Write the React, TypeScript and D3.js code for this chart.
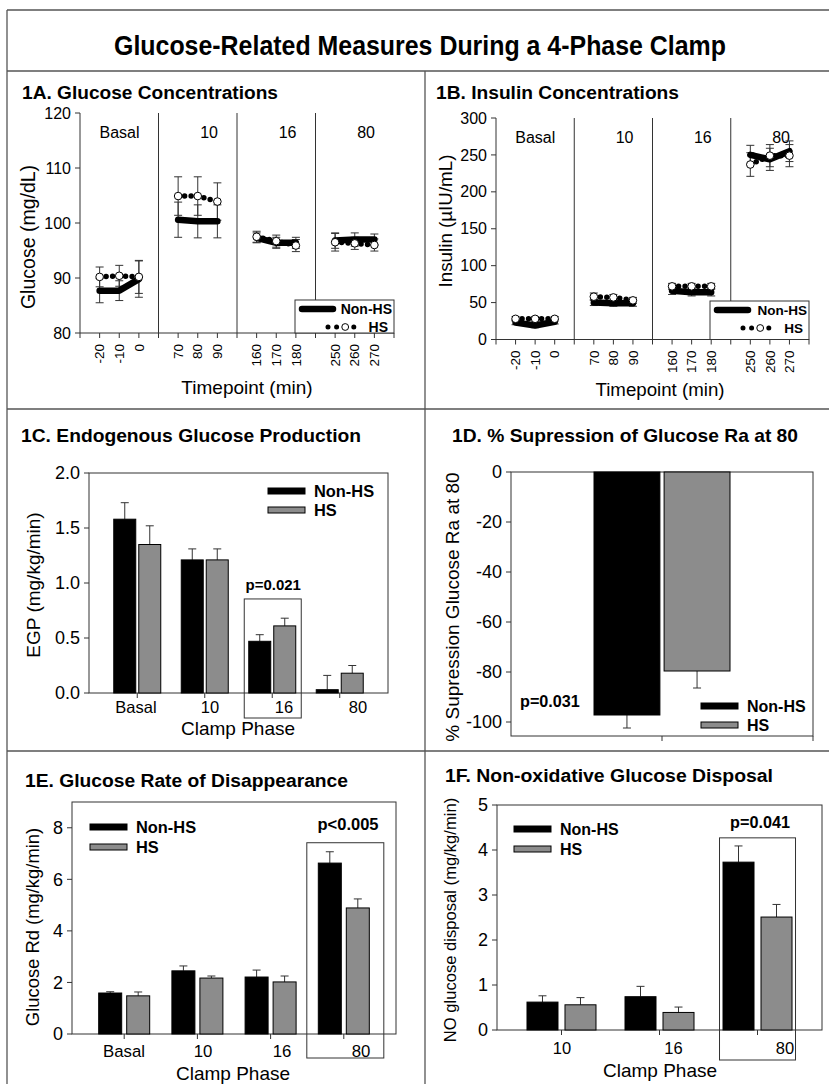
import React from 'react';
import * as d3 from 'd3';

const FONT = "'Liberation Sans', Arial, Helvetica, sans-serif";
const TITLE_FONT = "'Liberation Sans Narrow', 'Arial Narrow', 'Liberation Sans', Arial, sans-serif";

// ---------------- data ----------------
const mainTitle = 'Glucose-Related Measures During a 4-Phase Clamp';
const phases = ['Basal', '10', '16', '80'];
const timepoints = ['-20', '-10', '0', '70', '80', '90', '160', '170', '180', '250', '260', '270'];

const glucoseNonHS = [87.7, 87.7, 89.8, 100.6, 100.3, 100.3, 97.3, 96.4, 96.4, 96.8, 97.0, 97.0];
const glucoseNonHSErr = [2.2, 1.8, 3.3, 3.2, 3.0, 3.0, 0.9, 1.0, 1.0, 1.4, 1.2, 1.0];
const glucoseHS = [90.2, 90.4, 90.2, 104.9, 104.9, 103.9, 97.5, 96.7, 95.9, 96.5, 96.3, 96.0];
const glucoseHSErr = [1.8, 1.9, 3.0, 3.5, 3.5, 3.4, 1.0, 1.1, 1.1, 1.6, 1.1, 1.1];
const glucoseTicks = [80, 90, 100, 110, 120];

const insulinNonHS = [23, 19, 24, 50, 49, 49, 66, 64, 64, 250, 244, 255];
const insulinNonHSErr = [3, 3, 3, 4, 4, 4, 5, 5, 5, 13, 15, 14];
const insulinHS = [28, 28, 28, 58, 57, 53, 72, 72, 72, 237, 249, 249];
const insulinHSErr = [3, 3, 3, 5, 4, 4, 4, 4, 4, 16, 15, 15];
const insulinTicks = [0, 50, 100, 150, 200, 250, 300];

const egpNonHS = [1.58, 1.21, 0.47, 0.03];
const egpNonHSErr = [0.15, 0.10, 0.06, 0.13];
const egpHS = [1.35, 1.21, 0.61, 0.18];
const egpHSErr = [0.17, 0.10, 0.07, 0.07];
const egpTicks = [0, 0.5, 1.0, 1.5, 2.0];

const suppressionGroups = ['Non-HS', 'HS'];
const suppression = [-97.2, -79.6];
const suppressionErr = [5.2, 6.8];
const suppressionTicks = [-100, -80, -60, -40, -20, 0];

const rdNonHS = [1.59, 2.45, 2.21, 6.63];
const rdNonHSErr = [0.05, 0.19, 0.27, 0.44];
const rdHS = [1.48, 2.17, 2.02, 4.89];
const rdHSErr = [0.15, 0.08, 0.23, 0.35];
const rdTicks = [0, 2, 4, 6, 8];

const noPhases = ['10', '16', '80'];
const noNonHS = [0.62, 0.74, 3.73];
const noNonHSErr = [0.14, 0.23, 0.36];
const noHS = [0.56, 0.39, 2.51];
const noHSErr = [0.16, 0.12, 0.28];
const noTicks = [0, 1, 2, 3, 4, 5];

const GRAY = '#8c8c8c';
const LINE = '#333';

// ---------------- helpers ----------------
function ErrBar({ x, y1, y2, cap = 4 }: any) {
  return (
    <g stroke={LINE} strokeWidth={1}>
      <line x1={x} x2={x} y1={y1} y2={y2} />
      <line x1={x - cap} x2={x + cap} y1={y2} y2={y2} />
    </g>
  );
}

function ErrBarBoth({ x, y1, y2, cap = 4 }: any) {
  return (
    <g stroke={LINE} strokeWidth={1}>
      <line x1={x} x2={x} y1={y1} y2={y2} />
      <line x1={x - cap} x2={x + cap} y1={y1} y2={y1} />
      <line x1={x - cap} x2={x + cap} y1={y2} y2={y2} />
    </g>
  );
}

function YAxis({ x, scale, ticks, fmt, size }: any) {
  return (
    <g>
      {ticks.map((t: number) => (
        <g key={t}>
          <line x1={x - 5} x2={x} y1={scale(t)} y2={scale(t)} stroke={LINE} />
          <text x={x - 9} y={scale(t)} dy="0.35em" textAnchor="end" fontSize={size} fontFamily={FONT}>
            {fmt ? fmt(t) : t}
          </text>
        </g>
      ))}
    </g>
  );
}

function PanelTitle({ x, y, text, size, len }: any) {
  return (
    <text x={x} y={y} fontSize={size} fontWeight="bold" fontFamily={FONT} textLength={len} lengthAdjust="spacingAndGlyphs">
      {text}
    </text>
  );
}

function VLabel({ x, y, text, size }: any) {
  return (
    <text transform={`translate(${x},${y}) rotate(-90)`} textAnchor="middle" dy="0.35em" fontSize={size} fontFamily={FONT}>
      {text}
    </text>
  );
}

function BarLegend({ x, y, size, gap = 20 }: any) {
  return (
    <g fontFamily={FONT} fontWeight="bold" fontSize={size}>
      <rect x={x} y={y - 3} width={37} height={6} fill="#000" stroke="#000" />
      <text x={x + 46} y={y} dy="0.36em">Non-HS</text>
      <rect x={x} y={y + gap - 3} width={37} height={6} fill={GRAY} stroke="#000" />
      <text x={x + 46} y={y + gap} dy="0.36em">HS</text>
    </g>
  );
}

// ---------------- time-course panel ----------------
function TimePanel({ x0, x1, yTop, yBot, domain, ticks, nonHS, nonHSErr, hs, hsErr, tickSize, legendX, legendTop, legendFont, phaseFont }: any) {
  const xs = d3.scaleLinear().domain([0, 16]).range([x0, x1]);
  const ys = d3.scaleLinear().domain(domain).range([yBot, yTop]);
  const posIdx = (i: number) => Math.floor(i / 3) * 4 + (i % 3) + 1;
  const lineGen = (vals: number[], p: number) =>
    d3.line<number>().x((_, j) => xs(posIdx(p * 3 + j))).y((v) => ys(v))(vals.slice(p * 3, p * 3 + 3)) as string;
  const idxTicks = d3.range(0, 17);
  return (
    <g fontFamily={FONT}>
      <line x1={x0} x2={x0} y1={yTop} y2={yBot} stroke={LINE} />
      <YAxis x={x0} scale={ys} ticks={ticks} size={tickSize} />
      <line x1={x0} x2={x1} y1={yBot} y2={yBot} stroke={LINE} />
      {idxTicks.map((t) => (
        <line key={t} x1={xs(t)} x2={xs(t)} y1={yBot} y2={yBot + 5} stroke={LINE} />
      ))}
      {timepoints.map((tp, i) => (
        <text key={tp} transform={`translate(${xs(posIdx(i))},${yBot + 11}) rotate(-90)`} textAnchor="end" dy="0.35em" fontSize={13.5}>
          {tp}
        </text>
      ))}
      {[4, 8, 12].map((t) => (
        <line key={t} x1={xs(t)} x2={xs(t)} y1={yTop} y2={yBot} stroke={LINE} />
      ))}
      {phases.map((p, k) => (
        <text key={p} x={xs(k * 4 + 4) - 19} y={yTop + 19} dy="0.35em" textAnchor="end" fontSize={phaseFont}>
          {p}
        </text>
      ))}
      {timepoints.map((tp, i) => (
        <g key={'e' + tp}>
          <ErrBarBoth x={xs(posIdx(i))} y1={ys(nonHS[i] - nonHSErr[i])} y2={ys(nonHS[i] + nonHSErr[i])} cap={4} />
          <ErrBarBoth x={xs(posIdx(i))} y1={ys(hs[i] - hsErr[i])} y2={ys(hs[i] + hsErr[i])} cap={4} />
        </g>
      ))}
      {phases.map((p, k) => (
        <g key={'l' + p}>
          <path d={lineGen(nonHS, k)} fill="none" stroke="#000" strokeWidth={6.5} strokeLinecap="round" strokeLinejoin="round" />
          <path d={lineGen(hs, k)} fill="none" stroke="#000" strokeWidth={5.5} strokeLinecap="round" strokeDasharray="0 6.5" />
        </g>
      ))}
      {timepoints.map((tp, i) => (
        <circle key={'c' + tp} cx={xs(posIdx(i))} cy={ys(hs[i])} r={3.8} fill="#fff" stroke="#000" strokeWidth={1} />
      ))}
      <rect x={legendX} y={legendTop} width={x1 - legendX} height={yBot - legendTop} fill="#fff" stroke={LINE} />
      <line x1={legendX + 7} x2={legendX + 38} y1={legendTop + 9} y2={legendTop + 9} stroke="#000" strokeWidth={6.5} strokeLinecap="round" />
      <text x={x1 - 2} y={legendTop + 9} dy="0.36em" textAnchor="end" fontWeight="bold" fontSize={legendFont}>Non-HS</text>
      <line x1={legendX + 33} x2={legendX + 59} y1={legendTop + 27} y2={legendTop + 27} stroke="#000" strokeWidth={5} strokeLinecap="round" strokeDasharray="0 8.6" />
      <circle cx={legendX + 33 + 2 * 8.6} cy={legendTop + 27} r={3.4} fill="#fff" stroke="#000" />
      <text x={x1 - 6} y={legendTop + 27} dy="0.36em" textAnchor="end" fontWeight="bold" fontSize={legendFont}>HS</text>
    </g>
  );
}

// ---------------- grouped bar panel ----------------
function BarPanel({ cats, a, aErr, b, bErr, left, right, top, bottom, domain, ticks, fmt, tickSize, pad, barW, gap, labelRange, labelSize, labelY }: any) {
  const xs = d3.scalePoint().domain(cats).range([left, right]).padding(pad);
  const xl = d3.scalePoint().domain(cats).range(labelRange);
  const ys = d3.scaleLinear().domain(domain).range([bottom, top]);
  return (
    <g fontFamily={FONT}>
      <rect x={left} y={top} width={right - left} height={bottom - top} fill="none" stroke={LINE} />
      <YAxis x={left} scale={ys} ticks={ticks} fmt={fmt} size={tickSize} />
      {cats.map((c: string) => (
        <line key={'t' + c} x1={xs(c)} x2={xs(c)} y1={bottom} y2={bottom + 5} stroke={LINE} />
      ))}
      {cats.map((c: string, i: number) => {
        const cx = xs(c) as number;
        const ax = cx - gap / 2 - barW;
        const bx = cx + gap / 2;
        return (
          <g key={c}>
            <ErrBar x={ax + barW / 2} y1={ys(a[i])} y2={ys(a[i] + aErr[i])} />
            <ErrBar x={bx + barW / 2} y1={ys(b[i])} y2={ys(b[i] + bErr[i])} />
            <rect x={ax} y={ys(a[i])} width={barW} height={ys(0) - ys(a[i])} fill="#000" stroke="#000" />
            <rect x={bx} y={ys(b[i])} width={barW} height={ys(0) - ys(b[i])} fill={GRAY} stroke="#000" />
          </g>
        );
      })}
      {cats.map((c: string) => (
        <text key={'l' + c} x={xl(c)} y={labelY} textAnchor="middle" fontSize={labelSize}>
          {c}
        </text>
      ))}
    </g>
  );
}

function Frame() {
  return (
    <g stroke="#555" strokeWidth={1.3} fill="none">
      <line x1={7} x2={829} y1={10} y2={10} />
      <line x1={7} x2={7} y1={10} y2={1084} />
      <line x1={7} x2={829} y1={71} y2={71} />
      <line x1={7} x2={829} y1={409} y2={409} />
      <line x1={7} x2={829} y1={751} y2={751} />
      <line x1={425} x2={425} y1={71} y2={1084} />
    </g>
  );
}

export default function App() {
  const yC = d3.scaleLinear().domain([0, 2]).range([693, 473]);
  const xC = d3.scalePoint().domain(phases).range([89, 388]).padding(0.715);
  const yE = d3.scaleLinear().domain([0, 9]).range([1034, 802]);
  const xE = d3.scalePoint().domain(phases).range([72, 396]).padding(0.713);
  const yF = d3.scaleLinear().domain([0, 5]).range([1030, 805]);
  const xF = d3.scalePoint().domain(noPhases).range([497, 822]).padding(0.658);
  const yD = d3.scaleLinear().domain([-105.6, 0]).range([736, 472]);
  const xD = d3.scaleBand().domain(suppressionGroups).range([594, 730]).paddingInner(0.06);

  return (
    <svg width={829} height={1084} style={{ position: 'absolute', left: 0, top: 0, background: '#fff' }}>
      <rect x={0} y={0} width={829} height={1084} fill="#fff" />
      <Frame />
      <text x={420} y={55} textAnchor="middle" fontSize={28} fontWeight="bold" fontFamily={TITLE_FONT} textLength={612} lengthAdjust="spacingAndGlyphs">
        {mainTitle}
      </text>

      {/* 1A */}
      <PanelTitle x={22} y={99} text="1A. Glucose Concentrations" size={18} len={256} />
      <TimePanel x0={80} x1={394} yTop={113} yBot={333} domain={[80, 120]} ticks={glucoseTicks}
        nonHS={glucoseNonHS} nonHSErr={glucoseNonHSErr} hs={glucoseHS} hsErr={glucoseHSErr}
        tickSize={16} legendX={295} legendTop={300} legendFont={14} phaseFont={16} />
      <VLabel x={28} y={237} text="Glucose (mg/dL)" size={19.5} />
      <text x={247} y={394} textAnchor="middle" fontSize={19} fontFamily={FONT}>Timepoint (min)</text>

      {/* 1B */}
      <PanelTitle x={436} y={99} text="1B. Insulin Concentrations" size={18} len={243} />
      <TimePanel x0={496} x1={809} yTop={118} yBot={339.5} domain={[0, 300]} ticks={insulinTicks}
        nonHS={insulinNonHS} nonHSErr={insulinNonHSErr} hs={insulinHS} hsErr={insulinHSErr}
        tickSize={16} legendX={710} legendTop={301} legendFont={13.5} phaseFont={16} />
      <VLabel x={445} y={221} text="Insulin (µIU/mL)" size={18.8} />
      <text x={660} y={396} textAnchor="middle" fontSize={18.7} fontFamily={FONT}>Timepoint (min)</text>

      {/* 1C */}
      <PanelTitle x={21} y={442} text="1C. Endogenous Glucose Production" size={19} len={340} />
      <BarPanel cats={phases} a={egpNonHS} aErr={egpNonHSErr} b={egpHS} bErr={egpHSErr}
        left={89} right={388} top={473} bottom={693} domain={[0, 2]} ticks={egpTicks} fmt={d3.format('.1f')}
        tickSize={18} pad={0.715} barW={22} gap={3} labelRange={[136, 358]} labelSize={16.5} labelY={713} />
      <rect x={(xC('16') as number) - 28} y={yC(0.855)} width={57} height={718 - yC(0.855)} fill="none" stroke={LINE} />
      <text x={xC('16') as number + 1} y={590} textAnchor="middle" fontWeight="bold" fontSize={15} fontFamily={FONT}>p=0.021</text>
      <BarLegend x={268} y={491} size={16.4} gap={19} />
      <VLabel x={33} y={585} text="EGP (mg/kg/min)" size={19} />
      <text x={238} y={735} textAnchor="middle" fontSize={19} fontFamily={FONT}>Clamp Phase</text>

      {/* 1D */}
      <PanelTitle x={452} y={442} text="1D. % Supression of Glucose Ra at 80" size={19} len={346} />
      <g fontFamily={FONT}>
        <rect x={511} y={472} width={302} height={264} fill="none" stroke={LINE} />
        <YAxis x={511} scale={yD} ticks={suppressionTicks} size={18} />
        <line x1={662} x2={662} y1={736} y2={741} stroke={LINE} />
        <line x1={813} x2={813} y1={736} y2={741} stroke={LINE} />
        {suppressionGroups.map((g, i) => {
          const bx = xD(g) as number;
          const w = xD.bandwidth();
          return (
            <g key={g}>
              <ErrBar x={bx + w / 2} y1={yD(suppression[i])} y2={yD(suppression[i] - suppressionErr[i])} />
              <rect x={bx} y={yD(0)} width={w} height={yD(suppression[i]) - yD(0)} fill={i === 0 ? '#000' : GRAY} stroke="#000" />
            </g>
          );
        })}
        <text x={520} y={707} fontWeight="bold" fontSize={16.2}>p=0.031</text>
        <BarLegend x={701} y={706} size={16} gap={19} />
        <VLabel x={452} y={607} text="% Supression Glucose Ra at 80" size={19} />
      </g>

      {/* 1E */}
      <PanelTitle x={25} y={787} text="1E. Glucose Rate of Disappearance" size={18} len={323} />
      <BarPanel cats={phases} a={rdNonHS} aErr={rdNonHSErr} b={rdHS} bErr={rdHSErr}
        left={72} right={396} top={802} bottom={1034} domain={[0, 9]} ticks={rdTicks}
        tickSize={18} pad={0.713} barW={23} gap={5} labelRange={[124, 361]} labelSize={16.8} labelY={1057} />
      <rect x={(xE('80') as number) - 37} y={yE(7.42)} width={77} height={1058 - yE(7.42)} fill="none" stroke={LINE} />
      <text x={348} y={830} textAnchor="middle" fontWeight="bold" fontSize={16.5} fontFamily={FONT}>p&lt;0.005</text>
      <BarLegend x={90} y={827} size={16.4} gap={20} />
      <VLabel x={33} y={927} text="Glucose Rd (mg/kg/min)" size={18.4} />
      <text x={233} y={1080} textAnchor="middle" fontSize={19} fontFamily={FONT}>Clamp Phase</text>

      {/* 1F */}
      <PanelTitle x={445} y={782} text="1F. Non-oxidative Glucose Disposal" size={18} len={328} />
      <BarPanel cats={noPhases} a={noNonHS} aErr={noNonHSErr} b={noHS} bErr={noHSErr}
        left={497} right={822} top={805} bottom={1030} domain={[0, 5]} ticks={noTicks}
        tickSize={18} pad={0.658} barW={31} gap={7} labelRange={[562, 785]} labelSize={16.5} labelY={1054} />
      <rect x={(xF('80') as number) - 38} y={yF(4.27)} width={76} height={1060 - yF(4.27)} fill="none" stroke={LINE} />
      <text x={760} y={828} textAnchor="middle" fontWeight="bold" fontSize={16.2} fontFamily={FONT}>p=0.041</text>
      <BarLegend x={514} y={829} size={16} gap={20} />
      <VLabel x={450} y={920} text="NO glucose disposal (mg/kg/min)" size={16.6} />
      <text x={660} y={1077} textAnchor="middle" fontSize={19} fontFamily={FONT}>Clamp Phase</text>
    </svg>
  );
}
